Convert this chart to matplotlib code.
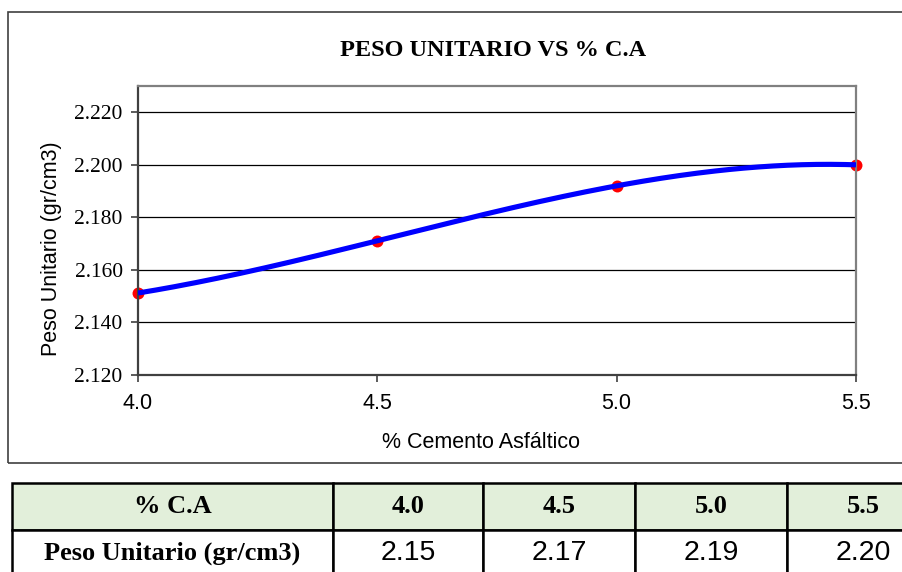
import numpy as np
import matplotlib
matplotlib.use("Agg")
import matplotlib.pyplot as plt
from matplotlib.patches import Rectangle
from matplotlib.ticker import FormatStrFormatter, MultipleLocator

# data
pct_ca = [4.0, 4.5, 5.0, 5.5]
peso_unitario = [2.1512, 2.1711, 2.1920, 2.2000]

title = "PESO UNITARIO VS % C.A"
x_label = "% Cemento Asfáltico"
y_label = "Peso Unitario (gr/cm3)"
row_labels = ["% C.A", "Peso Unitario (gr/cm3)"]

W, H = 903, 572
fig = plt.figure(figsize=(W / 100, H / 100), dpi=100)


def fx(px):
    return px / W


def fy(py):
    return 1 - py / H


# outer frame of the chart object
fig.patches.append(Rectangle((fx(8), fy(463)), fx(940) - fx(8), fy(12) - fy(463),
                             transform=fig.transFigure, fill=False,
                             edgecolor="#404040", linewidth=1.2))

ax = fig.add_axes([fx(138), fy(375), fx(856) - fx(138), fy(86) - fy(375)])

# smoothed line (cubic through the four points, like the Excel smooth line)
coef = np.polyfit(pct_ca, peso_unitario, 3)
xs = np.linspace(pct_ca[0], pct_ca[-1], 200)
ax.plot(pct_ca, peso_unitario, linestyle="None", marker="o", markersize=8.6,
        color="#FF0000", markeredgewidth=0, zorder=2, clip_on=False)
ax.plot(xs, np.polyval(coef, xs), color="#0000FF", linewidth=3.7, zorder=3,
        solid_capstyle="butt")

ax.set_xlim(4.0, 5.5)
ax.set_ylim(2.12, 2.23)
ax.xaxis.set_major_locator(MultipleLocator(0.5))
ax.xaxis.set_major_formatter(FormatStrFormatter("%.1f"))
ax.yaxis.set_major_formatter(FormatStrFormatter("%.3f"))
ax.set_yticks([2.12, 2.14, 2.16, 2.18, 2.20, 2.22])

ax.grid(axis="y", color="black", linewidth=0.9)
ax.set_axisbelow(True)

for side in ["left", "bottom"]:
    ax.spines[side].set_color("#404040")
    ax.spines[side].set_linewidth(1.6)
for side in ["top", "right"]:
    ax.spines[side].set_color("#808080")
    ax.spines[side].set_linewidth(1.6)

ax.tick_params(axis="both", direction="out", length=5, width=1.2, color="#404040")
ax.tick_params(axis="x", pad=8)
ax.tick_params(axis="y", pad=6)
for lab in ax.get_xticklabels():
    lab.set_fontfamily("Liberation Sans")
    lab.set_fontsize(15.5)
for lab in ax.get_yticklabels():
    lab.set_fontfamily("Liberation Serif")
    lab.set_fontsize(15.5)

fig.text(fx(493), fy(50), title, ha="center", va="center",
         fontfamily="Liberation Serif", fontweight="bold", fontsize=17.5)
fig.text(fx(481), fy(442), x_label, ha="center", va="center",
         fontfamily="Liberation Sans", fontsize=15.5)
fig.text(fx(52), fy(249), y_label, ha="center", va="center", rotation=90,
         fontfamily="Liberation Sans", fontsize=15.5)

# data table under the chart
tab_ax = fig.add_axes([fx(12), fy(577), fx(939) - fx(12), fy(483) - fy(577)])
tab_ax.axis("off")
cell_text = [[row_labels[0]] + ["%.1f" % v for v in pct_ca],
             [row_labels[1]] + ["%.2f" % v for v in peso_unitario]]
col_widths = [321, 150, 152, 152, 152]
col_widths = [w / sum(col_widths) for w in col_widths]
table = tab_ax.table(cellText=cell_text, colWidths=col_widths, cellLoc="center",
                     bbox=[0, 0, 1, 1])
table.auto_set_font_size(False)
for (r, c), cell in table.get_celld().items():
    cell.set_edgecolor("black")
    cell.set_linewidth(1.8)
    txt = cell.get_text()
    cell.set_facecolor("#E2EFDA" if r == 0 else "white")
    if r == 0 or c == 0:
        txt.set_fontfamily("Liberation Serif")
        txt.set_fontweight("bold")
        txt.set_fontsize(19)
    else:
        txt.set_fontfamily("Liberation Sans")
        txt.set_fontsize(20.5)

fig.savefig("out.png", dpi=100)
